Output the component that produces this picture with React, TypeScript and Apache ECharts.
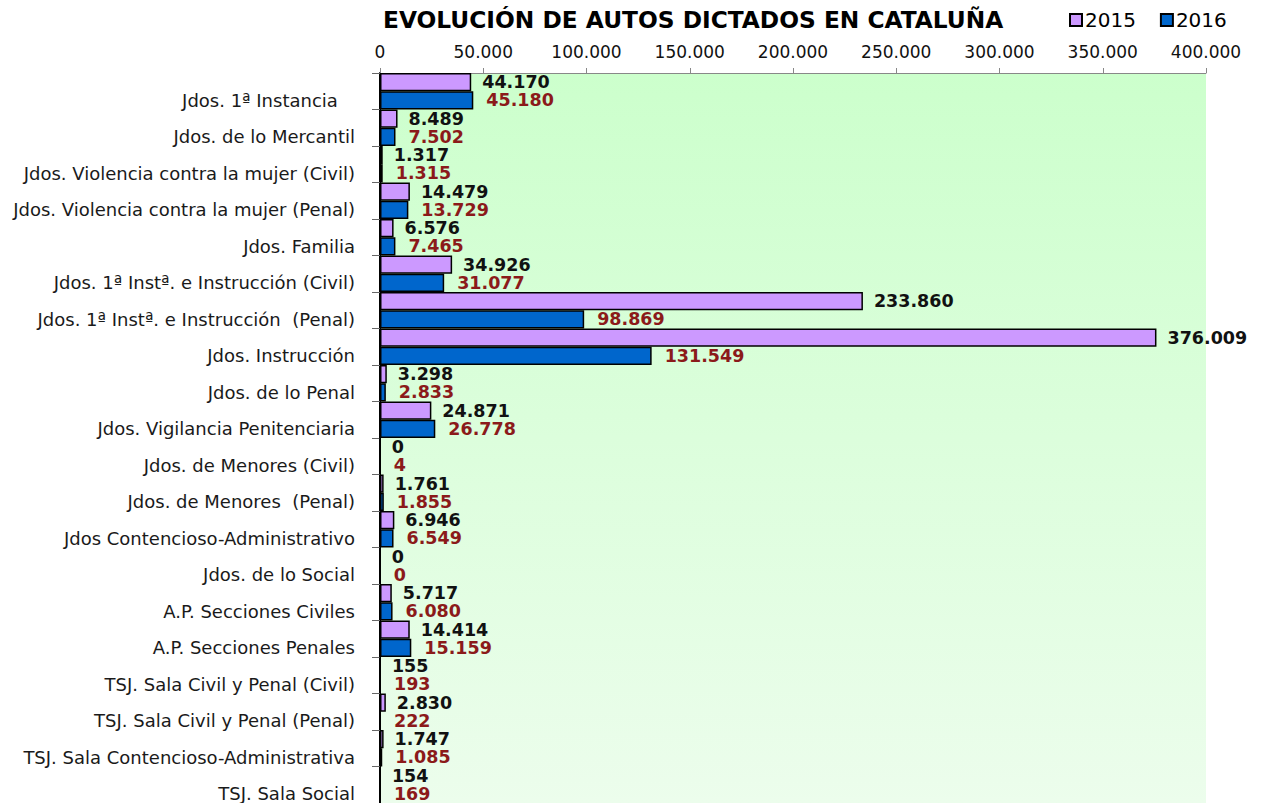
import React, { useEffect, useRef } from "react";
import * as echarts from "echarts";

const NB = "\u00a0";
const categories = [
  "Jdos. 1ª Instancia" + NB + NB + NB,
  "Jdos. de lo Mercantil",
  "Jdos. Violencia contra la mujer (Civil)",
  "Jdos. Violencia contra la mujer (Penal)",
  "Jdos. Familia",
  "Jdos. 1ª Instª. e Instrucción (Civil)",
  "Jdos. 1ª Instª. e Instrucción " + NB + "(Penal)",
  "Jdos. Instrucción",
  "Jdos. de lo Penal",
  "Jdos. Vigilancia Penitenciaria",
  "Jdos. de Menores (Civil)",
  "Jdos. de Menores " + NB + "(Penal)",
  "Jdos Contencioso-Administrativo",
  "Jdos. de lo Social",
  "A.P. Secciones Civiles",
  "A.P. Secciones Penales",
  "TSJ. Sala Civil y Penal (Civil)",
  "TSJ. Sala Civil y Penal (Penal)",
  "TSJ. Sala Contencioso-Administrativa",
  "TSJ. Sala Social",
];

const values2015 = [
  44170, 8489, 1317, 14479, 6576, 34926, 233860, 376009, 3298, 24871, 0, 1761,
  6946, 0, 5717, 14414, 155, 2830, 1747, 154,
];

const values2016 = [
  45180, 7502, 1315, 13729, 7465, 31077, 98869, 131549, 2833, 26778, 4, 1855,
  6549, 0, 6080, 15159, 193, 222, 1085, 169,
];

const seriesNames = ["2015", "2016"];
const axisMax = 400000;
const axisInterval = 50000;

const fmt = (v: number) =>
  String(Math.round(v)).replace(/\B(?=(\d{3})+(?!\d))/g, ".");

const FONT = "DejaVu Sans";

export default function App() {
  const ref = useRef<HTMLDivElement>(null);
  useEffect(() => {
    if (!ref.current) return;
    const chart = echarts.init(ref.current, null, { renderer: "svg" });
    chart.setOption({
      animation: false,
      backgroundColor: "#ffffff",
      title: {
        text: "EVOLUCIÓN DE AUTOS DICTADOS EN CATALUÑA",
        left: 383,
        top: 8,
        padding: 0,
        textStyle: {
          fontFamily: FONT,
          fontSize: 23.3,
          fontWeight: "bold",
          color: "#000",
        },
      },
      legend: {
        data: seriesNames,
        left: 1069,
        top: 10,
        padding: 0,
        itemWidth: 12,
        itemHeight: 12,
        itemGap: 24,
        icon: "rect",
        textStyle: { fontFamily: FONT, fontSize: 20, color: "#000", padding: [0, 0, 0, -2] },
      },
      grid: {
        left: 380,
        right: 57,
        top: 73,
        bottom: 0,
        show: true,
        borderWidth: 0,
        backgroundColor: new echarts.graphic.LinearGradient(0, 0, 0, 1, [
          { offset: 0, color: "#ccffcc" },
          { offset: 1, color: "#ecfdec" },
        ]),
      },
      xAxis: {
        type: "value",
        position: "top",
        min: 0,
        max: axisMax,
        interval: axisInterval,
        axisLine: { show: true, lineStyle: { color: "#888", width: 1 } },
        axisTick: { show: true, length: 5, lineStyle: { color: "#888" } },
        splitLine: { show: false },
        axisLabel: {
          margin: 13,
          fontFamily: FONT,
          fontSize: 17,
          color: "#111",
          formatter: (v: number) => fmt(v),
        },
      },
      yAxis: {
        type: "category",
        data: categories,
        inverse: true,
        axisLine: { show: true, lineStyle: { color: "#000", width: 2 } },
        axisTick: { show: true, length: 8, lineStyle: { color: "#666", width: 1 } },
        axisLabel: {
          interval: 0,
          margin: 25,
          fontFamily: FONT,
          fontSize: 18,
          lineHeight: 18,
          color: "#1a1a1a",
          verticalAlign: "top",
        },
      },
      series: [
        {
          name: seriesNames[0],
          type: "bar",
          data: values2015,
          barGap: "0%",
          barCategoryGap: "0%",
          itemStyle: { color: "#cc99ff", borderColor: "#000", borderWidth: 1.5 },
          label: {
            show: true,
            position: "right",
            distance: 11,
            fontFamily: FONT,
            fontSize: 17.5,
            lineHeight: 17,
            fontWeight: "bold",
            color: "#111",
            formatter: (p: any) => fmt(p.value),
          },
        },
        {
          name: seriesNames[1],
          type: "bar",
          data: values2016,
          barGap: "0%",
          barCategoryGap: "0%",
          itemStyle: { color: "#0066cc", borderColor: "#000", borderWidth: 1.5 },
          label: {
            show: true,
            position: "right",
            distance: 13,
            fontFamily: FONT,
            fontSize: 17.5,
            lineHeight: 17,
            fontWeight: "bold",
            color: "#8b1a1a",
            formatter: (p: any) => fmt(p.value),
          },
        },
      ],
    });
    return () => chart.dispose();
  }, []);
  return (
    <div
      ref={ref}
      style={{ position: "fixed", left: 0, top: 0, width: 1263, height: 803 }}
    />
  );
}
